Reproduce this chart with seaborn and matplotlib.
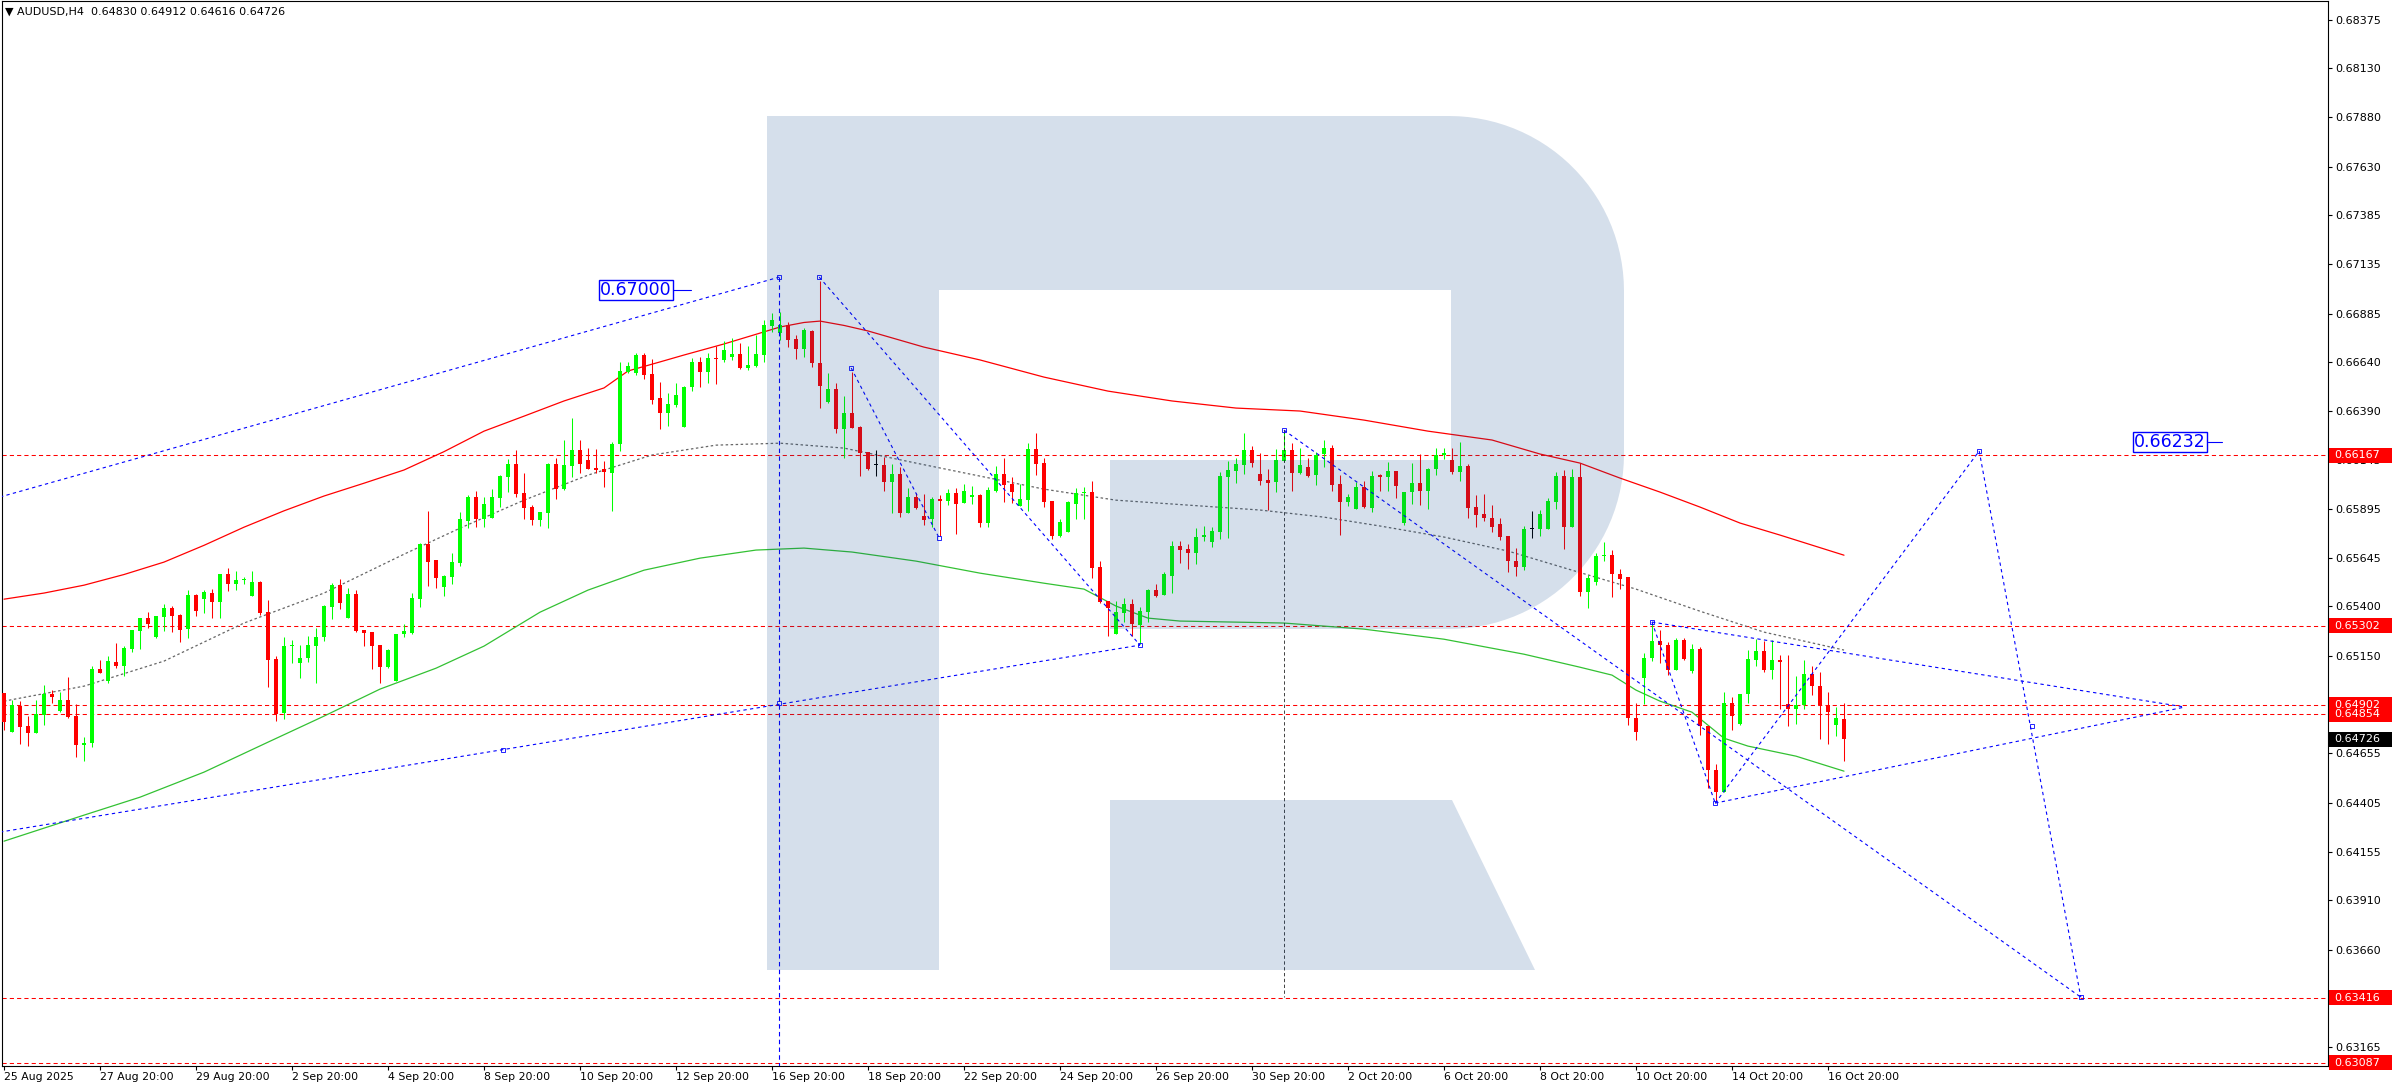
import numpy as np
import seaborn as sns
import matplotlib.pyplot as plt
from matplotlib.patches import Rectangle, PathPatch
from matplotlib.path import Path
import matplotlib.transforms as mtransforms

# AUDUSD H4 candles, prices in points (1e-5)
open_pts = [
    64959, 64764, 64895, 64793, 64759, 64849, 64955, 64871, 64925, 64844, 64698, 64709,
    65082, 65023, 65118, 65099, 65184, 65277, 65341, 65246, 65348, 65392, 65356, 65284,
    65457, 65439, 65468, 65424, 65564, 65515, 65532, 65454, 65524, 65371, 65133, 64860,
    65201, 65114, 65141, 65202, 65246, 65398, 65508, 65344, 65463, 65280, 65270, 65204,
    65094, 65023, 65260, 65263, 65439, 65718, 65635, 65500, 65551, 65622, 65835, 65953,
    65846, 65851, 65951, 66058, 66122, 65973, 65902, 65840, 65872, 66122, 65994, 66114,
    66193, 66142, 66102, 66097, 66078, 66225, 66589, 66582, 66675, 66579, 66458, 66379,
    66421, 66311, 66511, 66641, 66590, 66660, 66650, 66666, 66680, 66611, 66619, 66675,
    66824, 66788, 66827, 66756, 66705, 66798, 66633, 66436, 66502, 66301, 66379, 66311,
    66181, 66116, 66117, 66032, 66071, 65875, 65953, 65858, 65841, 65945, 65934, 65973,
    65926, 65957, 65965, 65825, 65987, 66074, 66020, 65909, 65939, 66196, 66125, 65934,
    65757, 65779, 65919, 65973, 65980, 65598, 65427, 65261, 65368, 65412, 65304, 65373,
    65483, 65458, 65554, 65708, 65691, 65672, 65753, 65728, 65779, 66057, 66087, 66117,
    66193, 66071, 66041, 66032, 66139, 66193, 66078, 66105, 66066, 66171, 66206, 66020,
    65931, 65895, 66004, 65900, 66066, 66058, 66086, 65821, 65978, 66024, 65987, 66095,
    66168, 66142, 66083, 66112, 65902, 65868, 65850, 65817, 65755, 65632, 65601, 65791,
    65791, 65791, 65931, 66061, 65804, 66054, 65474, 65525, 65657, 65660, 65567, 65550,
    64832, 65038, 65139, 65224, 65204, 65077, 65232, 65074, 65184, 64795, 64573, 64460,
    64913, 64803, 64954, 65131, 65173, 65077, 65128, 64903, 64881, 64900, 65060, 64999,
    64900, 64798, 64830,
]
high_pts = [
    64962, 64925, 64921, 64844, 64928, 65001, 64976, 64967, 65040, 64905, 64736, 65097,
    65128, 65148, 65214, 65199, 65282, 65343, 65371, 65354, 65415, 65402, 65361, 65483,
    65461, 65483, 65488, 65567, 65595, 65580, 65547, 65580, 65529, 65431, 65148, 65244,
    65229, 65207, 65249, 65292, 65405, 65518, 65539, 65493, 65483, 65282, 65272, 65206,
    65182, 65262, 65310, 65466, 65723, 65884, 65637, 65562, 65672, 65878, 65965, 65987,
    65953, 65994, 66066, 66146, 66193, 66075, 65916, 65878, 66129, 66151, 66244, 66354,
    66244, 66202, 66198, 66137, 66235, 66641, 66641, 66683, 66687, 66654, 66538, 66480,
    66531, 66518, 66658, 66663, 66683, 66720, 66746, 66759, 66734, 66720, 66776, 66852,
    66886, 66895, 66840, 66776, 66810, 66802, 67052, 66582, 66531, 66467, 66590, 66313,
    66185, 66193, 66159, 66122, 66109, 65999, 65973, 65968, 65957, 65964, 65994, 65999,
    66020, 66010, 65968, 66004, 66112, 66151, 66054, 66020, 66230, 66281, 66151, 65934,
    65845, 65934, 65999, 66004, 66036, 65630, 65427, 65429, 65441, 65437, 65395, 65488,
    65514, 65574, 65733, 65733, 65716, 65799, 65808, 65805, 66083, 66137, 66151, 66281,
    66213, 66176, 66098, 66198, 66283, 66230, 66201, 66151, 66181, 66244, 66218, 66066,
    65968, 66029, 66036, 66088, 66071, 66134, 66088, 65982, 66130, 66173, 66100, 66201,
    66201, 66201, 66235, 66122, 65965, 65970, 65914, 65851, 65755, 65694, 65807, 65884,
    65889, 65948, 66083, 66091, 66095, 66125, 65558, 65672, 65728, 65686, 65588, 65550,
    64913, 65165, 65317, 65280, 65221, 65242, 65242, 65209, 65192, 64795, 64600, 64964,
    64942, 64954, 65178, 65233, 65224, 65229, 65153, 65153, 65047, 65128, 65099, 65068,
    64964, 64891, 64912,
]
low_pts = [
    64773, 64762, 64705, 64693, 64757, 64798, 64911, 64866, 64832, 64637, 64617, 64685,
    65063, 65013, 65089, 65049, 65170, 65184, 65290, 65238, 65277, 65270, 65221, 65241,
    65351, 65368, 65343, 65343, 65480, 65485, 65512, 65452, 65355, 64993, 64820, 64829,
    65114, 65038, 65119, 65013, 65226, 65334, 65388, 65342, 65272, 65201, 65084, 65010,
    65086, 65021, 65246, 65261, 65398, 65505, 65495, 65454, 65513, 65607, 65796, 65804,
    65804, 65851, 65905, 65982, 65956, 65845, 65813, 65809, 65796, 65943, 65990, 66054,
    66075, 66097, 66075, 66007, 65885, 66190, 66582, 66573, 66552, 66426, 66301, 66315,
    66413, 66311, 66494, 66514, 66531, 66529, 66641, 66650, 66604, 66599, 66616, 66641,
    66793, 66751, 66717, 66656, 66666, 66612, 66408, 66433, 66281, 66154, 66303, 66063,
    66092, 66063, 65987, 65872, 65855, 65872, 65892, 65813, 65801, 65757, 65914, 65767,
    65926, 65919, 65805, 65805, 65982, 65931, 65926, 65909, 65885, 66066, 65906, 65740,
    65753, 65779, 65841, 65845, 65545, 65419, 65251, 65261, 65322, 65251, 65212, 65322,
    65449, 65458, 65469, 65618, 65590, 65615, 65733, 65702, 65743, 65748, 66027, 66071,
    66108, 66016, 65889, 65982, 66134, 65987, 66071, 66057, 66016, 66108, 65987, 65762,
    65909, 65895, 65897, 65880, 65987, 65987, 65948, 65813, 65922, 65917, 65894, 66066,
    66146, 66071, 66037, 65851, 65804, 65834, 65779, 65737, 65576, 65556, 65585, 65748,
    65758, 65791, 65894, 65689, 65804, 65454, 65393, 65508, 65632, 65449, 65491, 64798,
    64725, 64908, 65124, 65114, 65055, 65077, 65128, 65063, 64749, 64482, 64410, 64460,
    64776, 64798, 64913, 65097, 65068, 65031, 64878, 64793, 64806, 64881, 64950, 64730,
    64701, 64742, 64616,
]
close_pts = [
    64815, 64900, 64790, 64759, 64857, 64955, 64942, 64925, 64840, 64697, 64710, 65082,
    65063, 65123, 65099, 65188, 65280, 65341, 65310, 65351, 65392, 65353, 65280, 65457,
    65378, 65471, 65424, 65564, 65515, 65534, 65537, 65524, 65368, 65131, 64857, 65202,
    65204, 65141, 65207, 65244, 65402, 65508, 65419, 65463, 65277, 65267, 65202, 65094,
    65179, 65260, 65275, 65443, 65718, 65627, 65546, 65554, 65625, 65843, 65956, 65845,
    65919, 65953, 66061, 66122, 65970, 65899, 65840, 65878, 66122, 65994, 66117, 66193,
    66122, 66097, 66092, 66083, 66224, 66594, 66619, 66675, 66573, 66447, 66381, 66426,
    66472, 66514, 66641, 66589, 66661, 66653, 66700, 66678, 66611, 66624, 66678, 66827,
    66852, 66825, 66751, 66705, 66802, 66633, 66519, 66502, 66298, 66379, 66306, 66180,
    66098, 66116, 66032, 66071, 65872, 65953, 65901, 65838, 65943, 65936, 65973, 65919,
    65985, 65964, 65825, 65990, 66074, 66017, 65982, 65943, 66196, 66122, 65931, 65757,
    65829, 65929, 65973, 65980, 65596, 65424, 65393, 65371, 65412, 65312, 65378, 65483,
    65453, 65564, 65708, 65686, 65672, 65752, 65762, 65782, 66061, 66091, 66122, 66193,
    66129, 66037, 66027, 66142, 66193, 66078, 66117, 66061, 66168, 66206, 66017, 65931,
    65953, 66004, 65906, 66061, 66057, 66086, 66012, 65978, 66024, 65987, 66097, 66168,
    66176, 66083, 66112, 65901, 65865, 65850, 65804, 65753, 65632, 65601, 65792, 65791,
    65868, 65934, 66061, 65804, 66054, 65474, 65545, 65657, 65660, 65566, 65540, 64832,
    64764, 65141, 65224, 65207, 65077, 65232, 65134, 65182, 64793, 64570, 64460, 64913,
    64845, 64954, 65136, 65173, 65077, 65128, 65116, 64881, 64900, 65060, 64999, 64900,
    64866, 64832, 64726,
]

# indicator lines (bar index, points)
red_bars = [0, 5, 10, 15, 20, 25, 30, 35, 40, 45, 50, 55, 60, 65, 70, 75, 78, 82, 85, 90, 94,
            97, 100, 102, 105, 108, 115, 122, 130, 138, 146, 154, 162, 170, 178, 186, 192,
            197, 202, 207, 212, 217, 222, 226, 230]
red_pts = [65437, 65468, 65508, 65562, 65625, 65710, 65802, 65885, 65960, 66025, 66092,
           66185, 66289, 66365, 66442, 66508, 66594, 66640, 66675, 66731, 66780, 66817,
           66840, 66847, 66825, 66797, 66715, 66650, 66563, 66492, 66442, 66406, 66391,
           66345, 66289, 66244, 66173, 66127, 66051, 65980, 65904, 65823, 65762, 65711, 65660]
green_bars = [0, 10, 17, 25, 33, 40, 47, 54, 60, 67, 73, 80, 87, 94, 100, 106, 114, 122, 130,
              135, 139, 143, 147, 160, 170, 180, 190, 197, 201, 204, 207, 211, 213, 215, 218,
              224, 230]
green_pts = [64210, 64342, 64433, 64560, 64712, 64844, 64981, 65087, 65199, 65371, 65483,
             65584, 65645, 65686, 65696, 65676, 65630, 65569, 65518, 65488, 65402, 65341,
             65326, 65316, 65285, 65234, 65158, 65092, 65052, 64976, 64920, 64864, 64798,
             64732, 64692, 64641, 64565]
grey_bars = [0, 10, 20, 30, 40, 50, 57, 65, 73, 81, 89, 97, 105, 114, 122, 130, 139, 148, 157,
             165, 172, 180, 188, 196, 204, 212, 220, 230]
grey_pts = [64920, 64996, 65123, 65316, 65468, 65665, 65797, 65939, 66066, 66168, 66218,
            66228, 66203, 66127, 66061, 65995, 65939, 65914, 65889, 65853, 65808, 65752,
            65681, 65584, 65488, 65376, 65270, 65179]

# horizontal levels and right-axis price tags
red_levels = [0.66167, 0.65302, 0.64854, 0.64902, 0.63416, 0.63087]
last_price = 0.64726
y_ticks = [0.68375, 0.68130, 0.67880, 0.67630, 0.67385, 0.67135, 0.66885, 0.66640, 0.66390,
           0.66145, 0.65895, 0.65645, 0.65400, 0.65150, 0.64905, 0.64655, 0.64405, 0.64155,
           0.63910, 0.63660, 0.63415, 0.63165]

# date labels (bar index, text)
date_bars = [0, 12, 24, 36, 48, 60, 72, 84, 96, 108, 120, 132, 144, 156, 168, 180, 192, 204,
             216, 228]
date_labels = ['25 Aug 2025', '27 Aug 20:00', '29 Aug 20:00', '2 Sep 20:00', '4 Sep 20:00',
               '8 Sep 20:00', '10 Sep 20:00', '12 Sep 20:00', '16 Sep 20:00', '18 Sep 20:00',
               '22 Sep 20:00', '24 Sep 20:00', '26 Sep 20:00', '30 Sep 20:00', '2 Oct 20:00',
               '6 Oct 20:00', '8 Oct 20:00', '10 Oct 20:00', '14 Oct 20:00', '16 Oct 20:00']

# drawn trend lines: (bars, prices)
blue_lines = [
    ([-0.5, 142.0], [0.64256, 0.65204]),
    ([-0.5, 96.9], [0.65955, 0.67070]),
    ([101.9, 142.0], [0.67070, 0.65204]),
    ([105.9, 116.9], [0.66609, 0.65747]),
    ([160.0, 259.6], [0.66294, 0.63419]),
    ([206.0, 272.6], [0.65321, 0.64890]),
    ([213.9, 272.6], [0.64403, 0.64890]),
    ([206.0, 213.9], [0.65321, 0.64403]),
    ([213.9, 246.9], [0.64403, 0.66188]),
    ([246.9, 259.6], [0.66188, 0.63419]),
]
anchor_bars = [96.9, 101.9, 105.9, 116.9, 142.0, 62.4, 96.9, 160.0, 206.0, 213.9, 246.9, 253.5, 259.6]
anchor_prices = [0.67070, 0.67070, 0.66609, 0.65747, 0.65204, 0.64672, 0.64910, 0.66294,
                 0.65321, 0.64403, 0.66188, 0.64793, 0.63419]

sns.set_style('white')
plt.rcParams['font.family'] = ['DejaVu Sans']

W, H = 2392, 1090
fig = plt.figure(figsize=(W / 100, H / 100), dpi=100)
ax = fig.add_axes([2 / W, 24 / H, 2326 / W, 1065 / H])
ax.set_xlim(-0.25, 290.5)
ax.set_ylim(0.63070, 0.68470)

opens = np.array(open_pts) / 1e5
highs = np.array(high_pts) / 1e5
lows = np.array(low_pts) / 1e5
closes = np.array(close_pts) / 1e5
bars = np.arange(len(opens))
colors = np.where(closes == opens, 'black', np.where(closes > opens, '#00ff00', '#ff0000'))

ax.vlines(bars, lows, highs, colors=colors, lw=0.75, zorder=4)
ax.bar(bars, np.maximum(np.abs(closes - opens), 0.00005), bottom=np.minimum(opens, closes),
       width=0.6, color=colors, lw=0, zorder=5)

sns.lineplot(x=red_bars, y=np.array(red_pts) / 1e5, ax=ax, color='#ff0000', lw=0.9,
             estimator=None, zorder=3)
sns.lineplot(x=green_bars, y=np.array(green_pts) / 1e5, ax=ax, color='#33c133', lw=0.9,
             estimator=None, zorder=3)
sns.lineplot(x=grey_bars, y=np.array(grey_pts) / 1e5, ax=ax, color='#666666', lw=0.9,
             linestyle=(0, (2, 2)), estimator=None, zorder=3)

for lvl in red_levels:
    ax.axhline(lvl, color='#ff0000', lw=0.75, ls=(0, (4, 3)), zorder=2)

for xs, ys in blue_lines:
    ax.plot(xs, ys, color='#0000ff', lw=0.8, ls=(0, (3, 3)), zorder=6)
ax.plot([96.9, 96.9], [0.67070, 0.6307], color='#0000ff', lw=0.8, ls=(0, (4, 3)), zorder=6)
ax.plot([160.0, 160.0], [0.66294, 0.63419], color='#222222', lw=0.6, ls=(0, (4, 3)), zorder=6)
ax.plot(anchor_bars, anchor_prices, ls='none', marker='s', ms=3, mfc='none', mec='#0000ff',
        mew=0.6, zorder=6)

# target labels
for bx, price, txt, lx in [(79.0, 0.67005, '0.67000', (83.6, 85.9)),
                           (270.75, 0.66234, '0.66232', (275.5, 277.3))]:
    ax.text(bx, price, txt, color='#0000ff', fontsize=12.5, ha='center', va='center', zorder=8,
            bbox=dict(boxstyle='square,pad=0.08', fc='white', ec='#0000ff', lw=1))
    ax.plot(lx, [price, price], color='#0000ff', lw=0.8, zorder=8)

# watermark "R" overlay
def px(X, Y):
    return ((X - 2) / 2326, (1066 - Y) / 1065)

t1 = np.linspace(np.pi / 2, 0, 30)
t2 = np.linspace(0, -np.pi / 2, 30)
r = 175
outline = [(767, 116), (1449, 116)]
outline += [(1449 + r * np.cos(t), 291 - r * np.sin(t)) for t in t1]
outline += [(1624, 454)]
outline += [(1449 + r * np.cos(t), 454 - r * np.sin(t)) for t in t2]
outline += [(1110, 629), (1110, 460), (1451, 460), (1451, 290), (939, 290), (939, 970),
            (767, 970), (767, 116)]
leg = [(1110, 800), (1452, 800), (1535, 970), (1110, 970), (1110, 800)]
verts, codes = [], []
for poly in (outline, leg):
    pts = [px(*p) for p in poly]
    verts += pts
    codes += [Path.MOVETO] + [Path.LINETO] * (len(pts) - 2) + [Path.CLOSEPOLY]
ax.add_patch(PathPatch(Path(verts, codes), transform=ax.transAxes, fc='#084389', ec='none',
                       alpha=0.17, zorder=10))

# axes styling
for s in ax.spines.values():
    s.set_color('black')
    s.set_linewidth(0.8)
ax.yaxis.tick_right()
ax.set_yticks(y_ticks)
ax.set_yticklabels([f'{v:.5f}' for v in y_ticks])
ax.set_xticks(date_bars)
ax.set_xticklabels(date_labels, ha='left')
ax.tick_params(axis='y', direction='out', length=3, width=0.8, pad=2, labelsize=8,
               colors='black', right=True)
ax.tick_params(axis='x', direction='out', length=3, width=0.8, pad=1.5, labelsize=7.8,
               colors='black', bottom=True)
ax.set_xlabel('')
ax.set_ylabel('')

# right-side price tags
blend = mtransforms.blended_transform_factory(ax.transAxes, ax.transData)
tag_h = 15 / 19720
for lvl, fc in [(v, '#ff0000') for v in red_levels] + [(last_price, 'black')]:
    ax.add_patch(Rectangle((1.0005, lvl - tag_h / 2), 0.0272, tag_h, transform=blend,
                           fc=fc, ec='none', clip_on=False, zorder=20))
    ax.text(1.0025, lvl, f'{lvl:.5f}', transform=blend, color='white', fontsize=8,
            va='center', ha='left', clip_on=False, zorder=21)

fig.text(5 / W, 1 - 12 / H, '\u25bc AUDUSD,H4  0.64830 0.64912 0.64616 0.64726',
         fontsize=8, va='center', ha='left', color='black')

fig.savefig('out.png', dpi=100, facecolor='white')
